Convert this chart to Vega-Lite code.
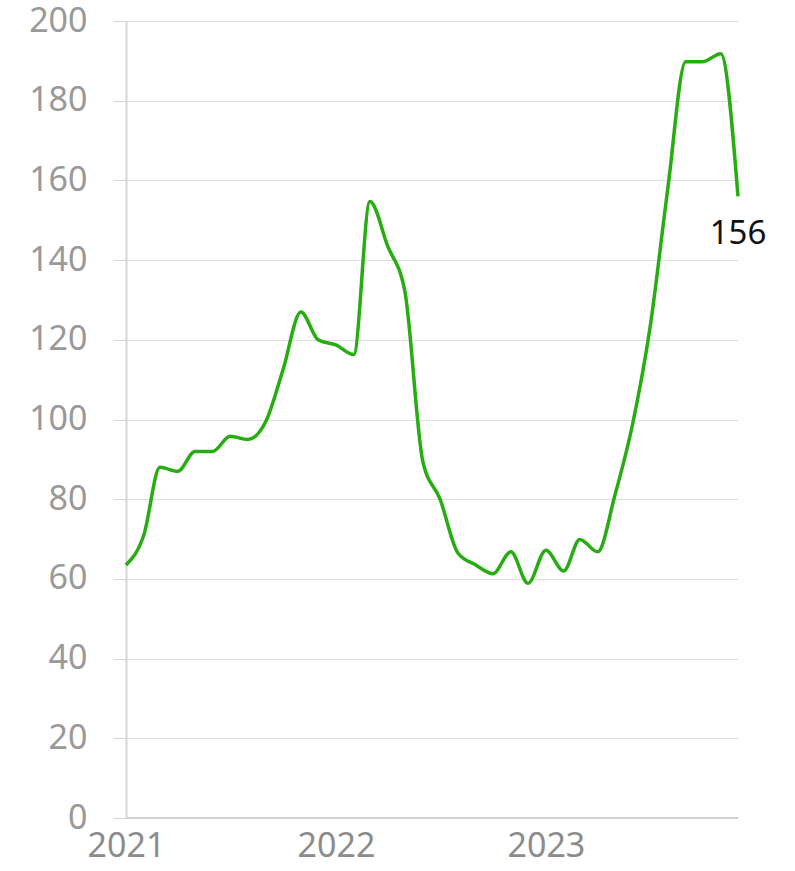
{
  "$schema": "https://vega.github.io/schema/vega-lite/v6.json",
  "autosize": {"type": "none"},
  "padding": {"left": 126, "top": 21, "right": 57, "bottom": 53},
  "width": 612,
  "height": 797,
  "background": "white",
  "config": {
    "view": {"stroke": null},
    "font": "Noto Sans"
  },
  "data": {
    "values": [
      {"month": "2021-01-01", "value": 63.5},
      {"month": "2021-02-01", "value": 71},
      {"month": "2021-03-01", "value": 88},
      {"month": "2021-04-01", "value": 87},
      {"month": "2021-05-01", "value": 92},
      {"month": "2021-06-01", "value": 92},
      {"month": "2021-07-01", "value": 95.8},
      {"month": "2021-08-01", "value": 95},
      {"month": "2021-09-01", "value": 99.5},
      {"month": "2021-10-01", "value": 112.5},
      {"month": "2021-11-01", "value": 127},
      {"month": "2021-12-01", "value": 120},
      {"month": "2022-01-01", "value": 118.7},
      {"month": "2022-02-01", "value": 116.3},
      {"month": "2022-03-01", "value": 154.7},
      {"month": "2022-04-01", "value": 143.5},
      {"month": "2022-05-01", "value": 132},
      {"month": "2022-06-01", "value": 89.5},
      {"month": "2022-07-01", "value": 80},
      {"month": "2022-08-01", "value": 66.5},
      {"month": "2022-09-01", "value": 63.5},
      {"month": "2022-10-01", "value": 61.3},
      {"month": "2022-11-01", "value": 66.8},
      {"month": "2022-12-01", "value": 58.9},
      {"month": "2023-01-01", "value": 67.2},
      {"month": "2023-02-01", "value": 62},
      {"month": "2023-03-01", "value": 69.9},
      {"month": "2023-04-01", "value": 66.8},
      {"month": "2023-05-01", "value": 81},
      {"month": "2023-06-01", "value": 99},
      {"month": "2023-07-01", "value": 123},
      {"month": "2023-08-01", "value": 158},
      {"month": "2023-09-01", "value": 189.8},
      {"month": "2023-10-01", "value": 189.8},
      {"month": "2023-11-01", "value": 191.8},
      {"month": "2023-12-01", "value": 156, "label": "156"}
    ]
  },
  "encoding": {
    "x": {
      "field": "month",
      "type": "temporal",
      "scale": {"type": "utc", "domain": ["2021-01-01", "2023-12-01"]},
      "axis": {
        "title": null,
        "format": "%Y",
        "formatType": "utc",
        "values": ["2021-01-01", "2022-01-01", "2023-01-01"],
        "grid": false,
        "ticks": false,
        "domain": false,
        "labelFontSize": 34,
        "labelColor": "#8c8c8c",
        "labelPadding": 11,
        "labelFlush": false,
        "labelFont": "Noto Sans"
      }
    },
    "y": {
      "field": "value",
      "type": "quantitative",
      "scale": {"domain": [0, 200], "nice": false, "zero": true},
      "axis": {
        "title": null,
        "values": [0, 20, 40, 60, 80, 100, 120, 140, 160, 180, 200],
        "grid": true,
        "gridColor": "#dedede",
        "gridWidth": 1,
        "tickColor": "#d6d6d6",
        "tickSize": 13,
        "domainColor": "#d6d6d6",
        "domainWidth": 2,
        "labelFontSize": 34,
        "labelColor": "#999999",
        "labelPadding": 26,
        "labelFont": "Noto Sans"
      }
    }
  },
  "layer": [
    {
      "mark": {"type": "rule", "color": "#d0d0d0", "strokeWidth": 2},
      "data": {"values": [{"zeroLine": 0}]},
      "encoding": {"y": {"field": "zeroLine", "type": "quantitative"}, "x": null}
    },
    {
      "mark": {"type": "line", "color": "#27ac12", "strokeWidth": 3.5, "interpolate": "monotone"}
    },
    {
      "transform": [{"filter": "datum.label != null"}],
      "mark": {"type": "text", "fontSize": 33, "color": "#111111", "dy": 38, "align": "center", "baseline": "middle", "font": "Noto Sans"},
      "encoding": {"text": {"field": "label"}}
    }
  ]
}
